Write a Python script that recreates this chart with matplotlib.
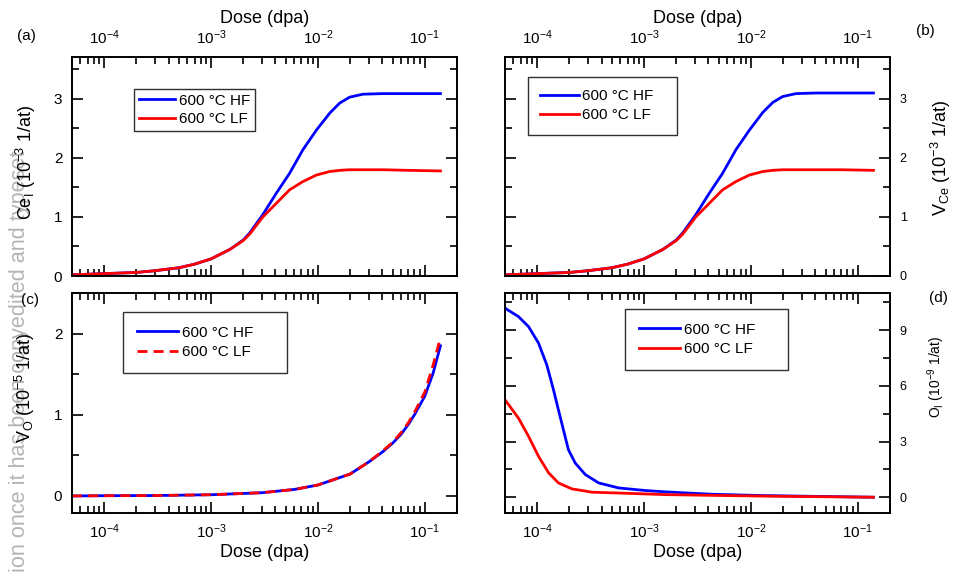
import matplotlib
matplotlib.use("Agg")
import matplotlib.pyplot as plt
from matplotlib.ticker import MultipleLocator, LogLocator, NullFormatter

plt.rcParams["font.family"] = ["Liberation Sans", "DejaVu Sans"]
plt.rcParams["mathtext.fontset"] = "custom"
plt.rcParams["mathtext.rm"] = "Liberation Sans"
plt.rcParams["mathtext.it"] = "Liberation Sans:italic"
plt.rcParams["mathtext.bf"] = "Liberation Sans:bold"

# ---- data ----
labels = ["600 \u00b0C HF", "600 \u00b0C LF"]

# (a) Ce interstitials and (b) Ce vacancies, 10^-3 1/at
dose_ab = [5e-5, 1e-4, 2e-4, 3e-4, 5e-4, 7e-4, 1e-3, 1.5e-3, 2e-3, 2.3e-3,
           3.05e-3, 4.07e-3, 5.43e-3, 7.24e-3, 9.66e-3, 1.29e-2, 1.6e-2,
           1.98e-2, 2.64e-2, 4.07e-2, 7e-2, 1.4e-1]
ce_i_hf = [0.02, 0.04, 0.06, 0.09, 0.14, 0.20, 0.29, 0.45, 0.61, 0.73,
           1.04, 1.40, 1.74, 2.14, 2.47, 2.76, 2.93,
           3.03, 3.08, 3.09, 3.09, 3.09]
ce_i_lf = [0.02, 0.04, 0.06, 0.09, 0.14, 0.20, 0.29, 0.45, 0.60, 0.71,
           1.00, 1.23, 1.46, 1.60, 1.71, 1.77, 1.79,
           1.80, 1.80, 1.80, 1.79, 1.78]
v_ce_hf = [0.02, 0.04, 0.06, 0.09, 0.14, 0.20, 0.29, 0.45, 0.61, 0.73,
           1.04, 1.40, 1.74, 2.14, 2.47, 2.77, 2.94,
           3.04, 3.09, 3.10, 3.10, 3.10]
v_ce_lf = [0.02, 0.04, 0.06, 0.09, 0.14, 0.20, 0.29, 0.45, 0.60, 0.71,
           1.00, 1.23, 1.46, 1.60, 1.71, 1.77, 1.79,
           1.80, 1.80, 1.80, 1.80, 1.79]

# (c) O vacancies, 10^-5 1/at
dose_c = [5e-5, 1e-4, 3e-4, 1e-3, 3e-3, 6e-3, 1e-2, 2e-2, 3e-2, 4e-2,
          5e-2, 6e-2, 7e-2, 8e-2, 1e-1, 1.2e-1, 1.4e-1]
v_o_hf = [0.0, 0.003, 0.005, 0.015, 0.04, 0.08, 0.135, 0.27, 0.42, 0.54,
          0.65, 0.76, 0.88, 1.00, 1.23, 1.52, 1.85]
v_o_lf = [0.0, 0.003, 0.005, 0.015, 0.04, 0.08, 0.135, 0.27, 0.42, 0.55,
          0.66, 0.78, 0.90, 1.03, 1.28, 1.62, 1.95]

# (d) O interstitials, 10^-9 1/at
dose_d_hf = [5.0e-5, 5.2e-5, 6.68e-5, 8.3e-5, 1.03e-4, 1.23e-4, 1.42e-4,
             1.58e-4, 1.76e-4, 1.96e-4, 2.27e-4, 2.82e-4, 3.76e-4, 5.78e-4,
             1.03e-3, 1.58e-3, 4.3e-3, 1.26e-2, 3.7e-2, 1.4e-1]
o_i_hf = [10.2, 10.12, 9.73, 9.19, 8.30, 7.13, 5.79, 4.71, 3.63, 2.56,
          1.84, 1.22, 0.77, 0.50, 0.36, 0.29, 0.16, 0.09, 0.05, 0.0]
dose_d_lf = [5.0e-5, 6.68e-5, 8.3e-5, 1.03e-4, 1.28e-4, 1.58e-4, 2.11e-4,
             3.26e-4, 6.2e-4, 1.58e-3, 4.3e-3, 1.8e-2, 1.4e-1]
o_i_lf = [5.25, 4.26, 3.28, 2.20, 1.31, 0.77, 0.45, 0.27, 0.22, 0.14,
          0.10, 0.05, 0.0]

BLUE = "#0000ff"
RED = "#ff0000"
LW = 2.0

fig = plt.figure(figsize=(9.57, 5.75), dpi=100)
W, H = 957.0, 575.0


def make_axes(x0, y0, x1, y1):
    return fig.add_axes([x0 / W, 1 - y1 / H, (x1 - x0) / W, (y1 - y0) / H])


ax_a = make_axes(72, 57, 457, 276)
ax_b = make_axes(505, 57, 890, 276)
ax_c = make_axes(72, 293, 457, 513)
ax_d = make_axes(505, 293, 890, 513)


def style(ax, top_labels, right_labels, ymaj, ymin, tick_fs):
    ax.set_xscale("log")
    ax.set_xlim(5e-5, 0.2)
    for s in ax.spines.values():
        s.set_linewidth(1.4)
        s.set_color("black")
    ax.xaxis.set_major_locator(LogLocator(base=10, numticks=10))
    ax.xaxis.set_minor_locator(LogLocator(base=10, subs=range(2, 10), numticks=20))
    ax.xaxis.set_minor_formatter(NullFormatter())
    ax.yaxis.set_major_locator(MultipleLocator(ymaj))
    ax.yaxis.set_minor_locator(MultipleLocator(ymin))
    ax.tick_params(which="both", direction="in", top=True, bottom=True,
                   left=True, right=True, width=1.2, colors="black")
    ax.tick_params(which="major", length=8)
    ax.tick_params(which="minor", length=5)
    ax.tick_params(axis="x", which="both", labeltop=top_labels,
                   labelbottom=not top_labels, labelsize=11, pad=7)
    ax.tick_params(axis="y", which="both", labelleft=not right_labels,
                   labelright=right_labels, labelsize=tick_fs, pad=7)
    ax.set_xlabel("Dose (dpa)", fontsize=13, labelpad=2)
    if top_labels:
        ax.xaxis.set_label_position("top")
        ax.xaxis.labelpad = 4
    if right_labels:
        ax.yaxis.set_label_position("right")


def legend(ax, anchor, lines, **kw):
    leg = ax.legend(lines, labels, loc="upper left", bbox_to_anchor=anchor,
                    borderaxespad=0, fancybox=False, framealpha=1,
                    edgecolor="#303030", fontsize=11, handletextpad=0.25, **kw)
    leg.get_frame().set_linewidth(1.0)
    return leg


# (a)
style(ax_a, True, False, 1, 0.5, 11)
ax_a.set_ylim(0, 3.71)
la = ax_a.plot(dose_ab, ce_i_hf, color=BLUE, lw=LW)[0]
lb = ax_a.plot(dose_ab, ce_i_lf, color=RED, lw=LW)[0]
ax_a.set_ylabel("Ce$_\\mathrm{I}$ (10$^{-3}$ 1/at)", fontsize=13)
ax_a.yaxis.set_label_coords(-0.088, 0.52)
legend(ax_a, (0.161, 0.854), [la, lb], borderpad=0.3, labelspacing=0.3,
       handlelength=2.4)

# (b)
style(ax_b, True, True, 1, 0.5, 9)
ax_b.set_ylim(0, 3.71)
la = ax_b.plot(dose_ab, v_ce_hf, color=BLUE, lw=LW)[0]
lb = ax_b.plot(dose_ab, v_ce_lf, color=RED, lw=LW)[0]
ax_b.set_ylabel("V$_\\mathrm{Ce}$ (10$^{-3}$ 1/at)", fontsize=13)
ax_b.yaxis.set_label_coords(1.100, 0.54)
legend(ax_b, (0.060, 0.909 - 0.3, 0.387, 0.3), [la, lb], borderpad=0.8,
       labelspacing=0.35, handlelength=2.5, mode="expand")

# (c)
style(ax_c, False, False, 1, 0.5, 11)
ax_c.set_ylim(-0.21, 2.5)
la = ax_c.plot(dose_c, v_o_hf, color=BLUE, lw=LW)[0]
lb = ax_c.plot(dose_c, v_o_lf, color=RED, lw=LW, dashes=(3.6, 2.2))[0]
ax_c.set_ylabel("V$_\\mathrm{O}$ (10$^{-5}$ 1/at)", fontsize=13)
ax_c.yaxis.set_label_coords(-0.09, 0.57)
legend(ax_c, (0.132, 0.914 - 0.3, 0.426, 0.3), [la, lb], borderpad=0.9,
       labelspacing=0.35, handlelength=2.7, mode="expand")

# (d)
style(ax_d, False, True, 3, 1.5, 9)
ax_d.set_ylim(-0.85, 11.0)
la = ax_d.plot(dose_d_hf, o_i_hf, color=BLUE, lw=LW)[0]
lb = ax_d.plot(dose_d_lf, o_i_lf, color=RED, lw=LW)[0]
ax_d.set_ylabel("O$_\\mathrm{I}$ (10$^{-9}$ 1/at)", fontsize=10)
ax_d.yaxis.set_label_coords(1.092, 0.62)
legend(ax_d, (0.312, 0.927 - 0.3, 0.423, 0.3), [la, lb], borderpad=0.9,
       labelspacing=0.35, handlelength=2.7, mode="expand")

# panel tags
for txt, x, y in [("(a)", 26, 36), ("(b)", 925, 31), ("(c)", 30, 300), ("(d)", 938, 298)]:
    fig.text(x / W, 1 - y / H, txt, fontsize=11, ha="center", va="center")

# publisher margin stamp
fig.text(25 / W, 3 / H, "ion once it has been copyedited and typeset",
         rotation=90, rotation_mode="anchor", ha="left", va="baseline",
         fontsize=15.6, color="#b4b4b4", zorder=-1)

fig.savefig("out.png", dpi=100)
